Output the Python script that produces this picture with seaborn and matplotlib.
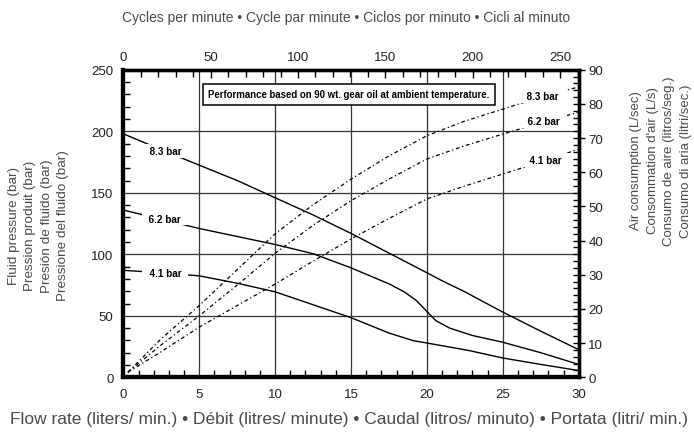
import matplotlib
matplotlib.use('Agg')
import matplotlib.pyplot as plt
from matplotlib.ticker import MultipleLocator
import seaborn as sns

# fluid pressure curves (bar) against flow rate (L/min)
flow_p83 = [0, 2.5, 5, 7.5, 10, 12.5, 15, 17.5, 20, 21, 22.5, 25, 27.5, 30]
press_p83 = [198, 185, 172.5, 160, 146, 132, 117, 101, 85, 78.5, 69.5, 53, 37.5, 22.5]
flow_p62 = [0, 2.5, 5, 7.5, 10, 12.5, 15, 17.5, 18.5, 19.3, 20, 20.6, 21.5, 23, 25, 27.5, 30]
press_p62 = [136, 128.5, 121, 114.5, 108, 100.5, 89, 76, 69.5, 62.5, 53.5, 46, 40, 34, 28.5, 20, 10.5]
flow_p41 = [0, 2.5, 5, 7.5, 10, 12.5, 15, 17.5, 19.1, 20, 22.8, 25, 27.5, 30]
press_p41 = [87, 85, 82.5, 76.5, 69.5, 59, 48.5, 36, 29.8, 27.9, 21.7, 15.7, 10.5, 5.5]

# air consumption curves (L/s) against flow rate (L/min)
flow_air = [0.3, 2.5, 5, 7.5, 10, 12.5, 15, 17.5, 20, 22.5, 25, 27.5, 30]
air_83 = [1.5, 11.3, 21, 31.5, 42, 50.5, 58, 64.8, 70.7, 75, 78.5, 82, 85]
air_62 = [1.5, 9.5, 18, 27, 36.3, 44.5, 51.7, 58, 63.9, 67.8, 71.2, 74.5, 77.6]
air_41 = [1.5, 7.5, 14.7, 21, 27.3, 34, 40.5, 46.5, 52.2, 56, 59.5, 63, 66.8]

CYCLES_PER_LITER = 8.69

sns.set_theme(style='white')
plt.rcParams['font.family'] = ['Liberation Sans', 'DejaVu Sans']

fig = plt.figure(figsize=(6.94, 4.35), dpi=100)
ax = fig.add_axes([0.1777, 0.1303, 0.6562, 0.7069])
ax2 = ax.twinx()

for fx, py in [(flow_p83, press_p83), (flow_p62, press_p62), (flow_p41, press_p41)]:
    sns.lineplot(x=fx, y=py, ax=ax, color='black', lw=1.0, zorder=3)

dash = (0, (3, 2.2, 1, 2.2))
for ay in [air_83, air_62, air_41]:
    sns.lineplot(x=flow_air, y=ay, ax=ax2, color='black', lw=0.9, linestyle=dash, zorder=3)

ax.set_xlim(0, 30)
ax.set_ylim(0, 250)
ax2.set_ylim(0, 90)

ax.xaxis.set_major_locator(MultipleLocator(5))
ax.xaxis.set_minor_locator(MultipleLocator(1))
ax.yaxis.set_major_locator(MultipleLocator(50))
ax.yaxis.set_minor_locator(MultipleLocator(10))
ax2.yaxis.set_major_locator(MultipleLocator(10))
ax2.yaxis.set_minor_locator(MultipleLocator(2))

ax.grid(True, which='major', color='#333333', lw=0.9)
ax2.grid(False)
ax.set_xlabel('')
ax.set_ylabel('')
ax2.set_ylabel('')

tick_col = '#222222'
ax.tick_params(axis='x', which='both', direction='in', bottom=True, top=False,
               labelsize=9.5, pad=8, labelcolor=tick_col, color='black', width=1)
ax.tick_params(axis='x', which='major', length=0)
ax.tick_params(axis='x', which='minor', length=5)
ax.tick_params(axis='y', which='both', direction='in', left=True, right=False,
               labelsize=9.5, pad=7, labelcolor=tick_col, color='black', width=1)
ax.tick_params(axis='y', which='major', length=0)
ax.tick_params(axis='y', which='minor', length=5)
ax2.tick_params(axis='y', which='both', right=True, labelsize=9.5, pad=3,
                labelcolor=tick_col, color='black', width=1)
ax2.tick_params(axis='y', which='major', direction='inout', length=8)
ax2.tick_params(axis='y', which='minor', direction='in', length=4)

top = ax.secondary_xaxis('top', functions=(lambda f: f * CYCLES_PER_LITER,
                                           lambda c: c / CYCLES_PER_LITER))
top.set_xticks(range(0, 251, 50))
top.xaxis.set_minor_locator(MultipleLocator(10))
top.tick_params(which='both', direction='in', labelsize=9.5, pad=5,
                labelcolor=tick_col, color='black', width=1)
top.tick_params(which='major', length=6)
top.tick_params(which='minor', length=5)

for a in [ax, ax2]:
    for side, s in a.spines.items():
        s.set_color('black')
        s.set_linewidth(3.0 if side in ('left', 'bottom') else 2.4)
for s in top.spines.values():
    s.set_linewidth(0)

lbl = dict(fontweight='bold', fontsize=7.2, ha='center', va='center',
           color='black', zorder=5, bbox=dict(fc='white', ec='none', pad=1.2))
ax.text(2.75, 184, '  8.3 bar  ', **lbl)
ax.text(2.75, 129, '  6.2 bar  ', **lbl)
ax.text(2.75, 84.5, '  4.1 bar  ', **lbl)
ax2.text(27.6, 82.2, '  8.3 bar  ', **lbl)
ax2.text(27.7, 75.0, '  6.2 bar  ', **lbl)
ax2.text(27.8, 63.6, '  4.1 bar  ', **lbl)

ax.text(14.85, 230, 'Performance based on 90 wt. gear oil at ambient temperature.',
        fontweight='bold', fontsize=6.9, ha='center', va='center', color='black',
        zorder=6, bbox=dict(fc='white', ec='black', lw=1.1, pad=3.8))

txt_col = '#4a4a4a'
fig.text(346 / 694, 1 - 18 / 435,
         'Cycles per minute • Cycle par minute • Ciclos por minuto • Cicli al minuto',
         ha='center', va='center', fontsize=10, color=txt_col)
fig.text(349 / 694, 1 - 420 / 435,
         'Flow rate (liters/ min.) • Débit (litres/ minute) • Caudal (litros/ minuto) • Portata (litri/ min.)',
         ha='center', va='center', fontsize=12.5, color=txt_col)
fig.text(38.5 / 694, 1 - 226 / 435,
         'Fluid pressure (bar)\nPression produit (bar)\nPresión de fluido (bar)\nPressione del fluido (bar)',
         rotation=90, ha='center', va='center', multialignment='center',
         fontsize=9.7, linespacing=1.45, color=txt_col)
fig.text(661 / 694, 1 - 161 / 435,
         "Air consumption (L/sec)\nConsommation d'air (L/s)\nConsumo de aire (litros/seg.)\nConsumo di aria (litri/sec.)",
         rotation=90, ha='center', va='center', multialignment='center',
         fontsize=9.5, linespacing=1.5, color=txt_col)

fig.savefig('out.png', dpi=100)
